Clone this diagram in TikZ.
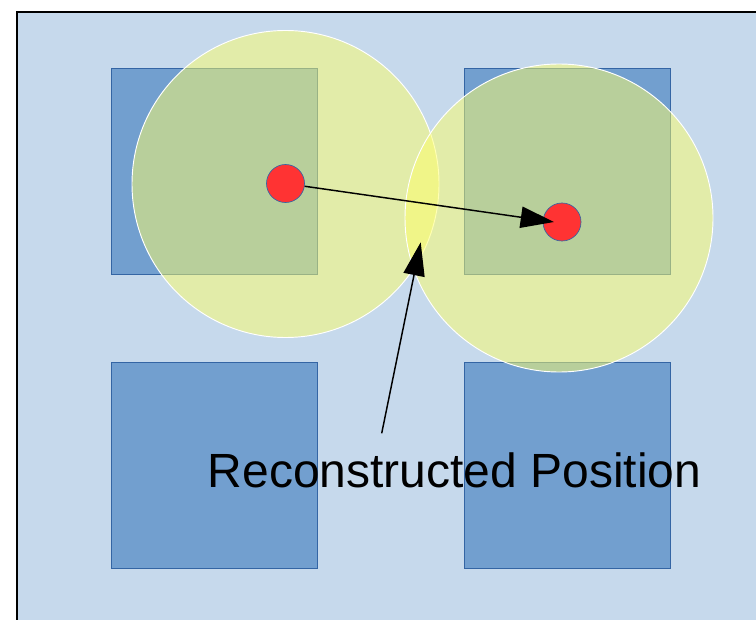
\documentclass[tikz,border=0pt]{standalone}
\usepackage{fontspec}
\setmainfont{Liberation Sans}
\usetikzlibrary{arrows.meta}

\definecolor{paleblue}{RGB}{198,217,236}
\definecolor{cellblue}{RGB}{114,159,207}
\definecolor{cellline}{RGB}{52,101,164}
\definecolor{rangeyellow}{RGB}{255,255,104}
\definecolor{nodered}{RGB}{255,51,51}

\tikzset{
	cell/.style={fill=cellblue, draw=cellline, line width=0.6pt},
	radiorange/.style={fill=rangeyellow, fill opacity=0.5, draw=white, line width=0.7pt},
	sensor/.style={circle, fill=nodered, draw=cellline, line width=0.5pt, minimum size=28.5pt, inner sep=0pt},
	hop/.style={line width=1.1pt, -{Triangle[length=25pt,width=16pt]}}
}

\begin{document}
\begin{tikzpicture}[x=0.75pt, y=-0.75pt]
			%%%%% START %%%%%
			\useasboundingbox (0, 0) rectangle (756, 620);
			\clip (0, 0) rectangle (756, 620);
			
			\draw[fill=paleblue, line width=1.5pt] (17, 12) rectangle (800, 660);
			
			% grid of cells
			\draw[cell] (111, 68) rectangle (317, 274);
			\draw[cell] (464, 68) rectangle (670, 274);
			\draw[cell] (111, 362) rectangle (317, 568);
			\draw[cell] (464, 362) rectangle (670, 568);
			
			% radio ranges
			\draw[radiorange] (285.5, 184) circle (153.5);
			\draw[radiorange] (559, 218) circle (154);
			
			\node[sensor] (sensA) at (285.5, 183.5) {};
			\node[sensor] (sensB) at (562, 222) {};
			
			\coordinate (hopEnd) at (554, 222);
			\draw[hop] (sensA) -- (hopEnd);
			
			\node[anchor=base, font=\fontsize{36}{43}\selectfont] (label) at (454.5, 487) {Reconstructed Position};
			
			\coordinate (labelTail) at (381.7, 433.3);
			\coordinate (posTip) at (420.7, 242.3);
			\draw[hop] (labelTail) -- (posTip);
			
			%%%%% END %%%%%
\end{tikzpicture}
\end{document}
